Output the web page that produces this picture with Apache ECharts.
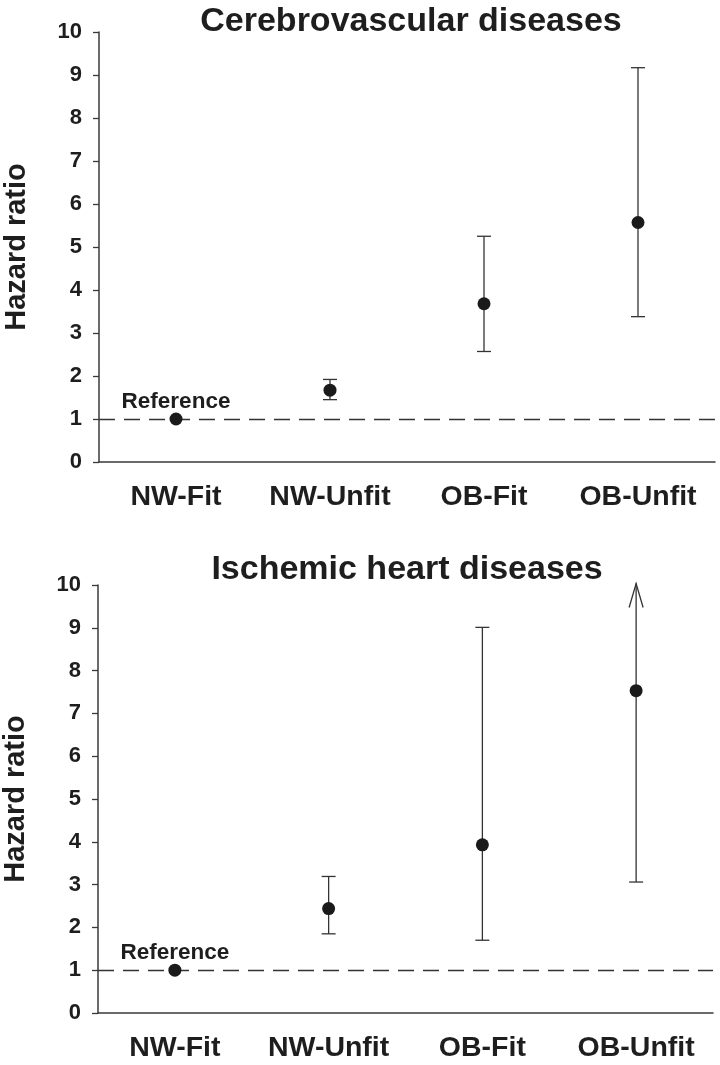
<!DOCTYPE html>
<html>
<head>
<meta charset="utf-8">
<script src="https://cdn.jsdelivr.net/npm/echarts@6/dist/echarts.min.js"></script>
<style>
  html, body { margin: 0; padding: 0; background: #ffffff; }
  #chart { width: 720px; height: 1065px; }
</style>
</head>
<body>
<div id="chart"></div>
<script>
// ---- data ----
const categories = ['NW-Fit', 'NW-Unfit', 'OB-Fit', 'OB-Unfit'];
const titles = ['Cerebrovascular diseases', 'Ischemic heart diseases'];
const yAxisName = 'Hazard ratio';
const referenceLabel = 'Reference';
const referenceHR = 1;

const cvdHR    = [1.00, 1.67, 3.68, 5.57];
const cvdLower = [null, 1.45, 2.57, 3.38];
const cvdUpper = [null, 1.92, 5.25, 9.17];
const cvdOpen  = [false, false, false, false];

const ihdHR    = [1.00, 2.44, 3.93, 7.53];
const ihdLower = [null, 1.85, 1.70, 3.06];
const ihdUpper = [null, 3.19, 9.01, null];   // open-ended (arrow) for OB-Unfit
const ihdOpen  = [false, false, false, true];

const yMin = 0, yMax = 10, yStep = 1;

// ---- style ----
const FONT = '"Liberation Sans", Arial, Helvetica, sans-serif';
const TEXT = '#1e1e1e';
const LINE = '#3a3a3a';

function errorData(lower, upper, open) {
  const out = [];
  for (let i = 0; i < categories.length; i++) {
    if (lower[i] == null) continue;
    out.push([i, lower[i], open[i] ? yMax : upper[i], open[i] ? 1 : 0]);
  }
  return out;
}

function renderErrorBar(params, api) {
  const x = api.value(0);
  const pLo = api.coord([x, api.value(1)]);
  const pHi = api.coord([x, api.value(2)]);
  const open = api.value(3);
  const cap = 7;
  const st = { stroke: '#333', lineWidth: 1.3 };
  const children = [
    { type: 'line', shape: { x1: pLo[0], y1: pLo[1], x2: pHi[0], y2: pHi[1] - (open ? 1.5 : 0) }, style: st },
    { type: 'line', shape: { x1: pLo[0] - cap, y1: pLo[1], x2: pLo[0] + cap, y2: pLo[1] }, style: st }
  ];
  if (open) {
    const tipY = pHi[1] - 1.5;
    children.push({ type: 'polyline', shape: { points: [[pHi[0] - 7, tipY + 24], [pHi[0], tipY], [pHi[0] + 7, tipY + 24]] }, style: Object.assign({ fill: null }, st) });
  } else {
    children.push({ type: 'line', shape: { x1: pHi[0] - cap, y1: pHi[1], x2: pHi[0] + cap, y2: pHi[1] }, style: st });
  }
  return { type: 'group', children: children };
}

const grids = [
  { left: 99, right: 5, top: 32, height: 430, containLabel: false, outerBoundsMode: 'none' },
  { left: 98, right: 7, top: 585, height: 428, containLabel: false, outerBoundsMode: 'none' }
];

function xAxis(gi) {
  return {
    type: 'category', gridIndex: gi, data: categories, boundaryGap: true,
    axisLine: { lineStyle: { color: LINE, width: 1.5 } },
    axisTick: { alignWithLabel: true, length: 7, lineStyle: { color: LINE, width: 1.3 } },
    axisLabel: { interval: 0, hideOverlap: false, color: TEXT, fontFamily: FONT, fontWeight: 'bold', fontSize: 28.5, margin: 21 },
    splitLine: { show: false }
  };
}
function yAxis(gi) {
  return {
    type: 'value', gridIndex: gi, min: yMin, max: yMax, interval: yStep,
    name: yAxisName, nameLocation: 'middle', nameGap: 68,
    nameTextStyle: { color: TEXT, fontFamily: FONT, fontWeight: 'bold', fontSize: 29 },
    axisLine: { show: true, lineStyle: { color: LINE, width: 1.5 } },
    axisTick: { show: true, length: 6, lineStyle: { color: LINE, width: 1.3 } },
    axisLabel: { color: TEXT, fontFamily: FONT, fontWeight: 'bold', fontSize: 22, margin: 17 },
    splitLine: { show: false }
  };
}

function pointSeries(gi, hr) {
  return {
    type: 'scatter', xAxisIndex: gi, yAxisIndex: gi, z: 5,
    data: hr.map((v, i) => [i, v]),
    symbolSize: 13,
    itemStyle: { color: '#1a1a1a', opacity: 1 },
    label: {
      show: true, position: 'top', distance: -1,
      formatter: p => (p.dataIndex === 0 ? referenceLabel : ''),
      color: TEXT, opacity: 1, fontFamily: FONT, fontWeight: 'bold', fontSize: 22.5
    },
    markLine: {
      silent: true, symbol: 'none', label: { show: false },
      lineStyle: { color: '#333', width: 1.4, type: [16, 9], opacity: 1 },
      data: [{ yAxis: referenceHR }]
    }
  };
}
function barSeries(gi, lower, upper, open) {
  return {
    type: 'custom', xAxisIndex: gi, yAxisIndex: gi, z: 3, clip: false,
    data: errorData(lower, upper, open),
    renderItem: renderErrorBar
  };
}

const chart = echarts.init(document.getElementById('chart'), null, { renderer: 'canvas' });
chart.setOption({
  backgroundColor: '#ffffff',
  animation: false,
  title: [
    { text: titles[0], left: 406, top: 0, textAlign: 'center',
      textStyle: { color: TEXT, fontFamily: FONT, fontWeight: 'bold', fontSize: 34 } },
    { text: titles[1], left: 402, top: 548, textAlign: 'center',
      textStyle: { color: TEXT, fontFamily: FONT, fontWeight: 'bold', fontSize: 34 } }
  ],
  grid: grids,
  xAxis: [xAxis(0), xAxis(1)],
  yAxis: [yAxis(0), yAxis(1)],
  series: [
    barSeries(0, cvdLower, cvdUpper, cvdOpen),
    pointSeries(0, cvdHR),
    barSeries(1, ihdLower, ihdUpper, ihdOpen),
    pointSeries(1, ihdHR)
  ]
});
</script>
</body>
</html>
